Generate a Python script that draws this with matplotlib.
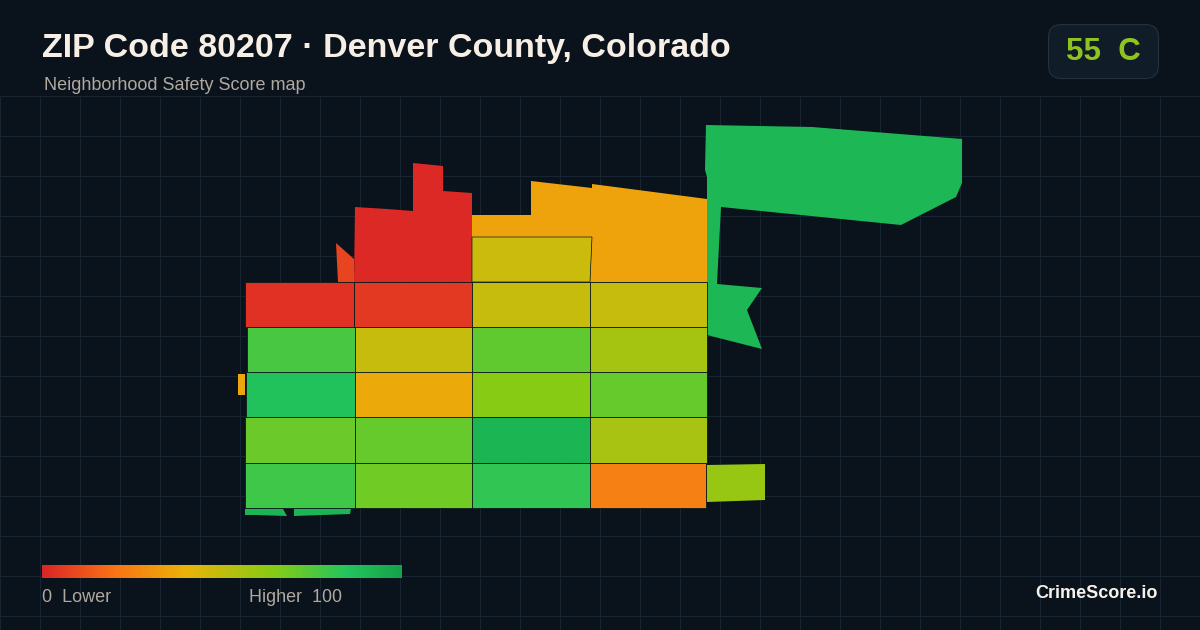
import numpy as np
import matplotlib
matplotlib.use('Agg')
import matplotlib.pyplot as plt
from matplotlib.colors import LinearSegmentedColormap
from matplotlib.patches import FancyBboxPatch, Polygon

BG = '#0a121c'
GRID = '#172431'
plt.rcParams['font.family'] = ['Liberation Sans', 'DejaVu Sans']

TITLE = 'ZIP Code 80207 · Denver County, Colorado'
SUBTITLE = 'Neighborhood Safety Score map'
BADGE = '55  C'

# colour scale of the score, 0 - 100
scale_stops = [0, 0.2, 0.4, 0.65, 0.85, 1]
scale_colors = ['#dc2626', '#f97316', '#eab308', '#84cc16', '#22c55e', '#16a34a']

# regular block tracts, pixel edges
col_edges = [
    [245, 354, 472, 590, 707],
    [247, 355, 472, 590, 707],
    [246, 355, 472, 590, 707],
    [245, 355, 472, 590, 707],
    [245, 355, 472, 590, 706],
]
row_edges = [282, 327, 372, 417, 463, 508]
block_scores = [
    [3, 5, 49, 49],
    [77, 49, 72, 57],
    [86, 37, 64, 71],
    [70, 71, 92, 56],
    [79, 69, 82, 24],
]

# irregular tracts (score, outline)
tract_scores = [1, 8, 35, 91, 60, 36, 92, 92, 48]
tract_shapes = [
    [(355, 207), (387, 209), (413, 211), (413, 163), (443, 166), (443, 191),
     (472, 193), (472, 282), (354, 282)],
    [(336, 243), (354, 259), (354, 282), (338, 282)],
    [(472, 215), (531, 215), (531, 181), (592, 188), (592, 184), (707, 199),
     (707, 282), (590, 282), (592, 237), (472, 237)],
    [(706, 125), (812, 127), (962, 139), (962, 183), (956, 197), (901, 225),
     (721, 207), (717, 284), (762, 288), (747, 310), (762, 349), (707, 335),
     (707, 177), (705, 170)],
    [(707, 465), (765, 464), (765, 500), (707, 502)],
    [(238, 374), (245, 374), (245, 395), (238, 395)],
    [(245, 509), (283, 509), (287, 516), (256, 515), (245, 515)],
    [(294, 509), (351, 509), (350, 514), (322, 515), (294, 516)],
    [(472, 237), (592, 237), (590, 282), (472, 282)],
]


def main():
    cmap = LinearSegmentedColormap.from_list('score', list(zip(scale_stops, scale_colors)))

    fig = plt.figure(figsize=(12, 6.3), dpi=100, facecolor=BG)
    ax = fig.add_axes([0, 0, 1, 1])
    ax.axis('off')

    # background grid, starts under the header
    ax.vlines(np.arange(0, 1201, 40), 96, 630, color=GRID, lw=0.72, zorder=1)
    ax.hlines(np.arange(96, 631, 40), 0, 1200, color=GRID, lw=0.72, zorder=1)

    for i, (score, shape) in enumerate(zip(tract_scores, tract_shapes)):
        # only the last one (inside the amber tract) shows an outline
        ec = '#0b1a1c' if i == len(tract_shapes) - 1 else 'none'
        ax.add_patch(Polygon(shape, closed=True, facecolor=cmap(score / 100), edgecolor=ec, lw=0.5, zorder=2))

    for r, row in enumerate(block_scores):
        for c, score in enumerate(row):
            x0, x1 = col_edges[r][c], col_edges[r][c + 1]
            y0, y1 = row_edges[r], row_edges[r + 1]
            ax.add_patch(Polygon([(x0, y0), (x1, y0), (x1, y1), (x0, y1)], closed=True,
                                 facecolor=cmap(score / 100), edgecolor='#0b1a1c', lw=0.6, zorder=3))

    ax.text(42, 48, TITLE, color='#f7efe5', fontsize=24.5, fontweight='bold', va='center', zorder=5)
    ax.text(44, 85.5, SUBTITLE, color='#b0a99f', fontsize=13, va='center', zorder=5)

    # score badge
    ax.add_patch(FancyBboxPatch((1048.5, 24.5), 110, 54, boxstyle='round,pad=0,rounding_size=13',
                                fc='#111c29', ec='#243140', lw=0.8, zorder=4))
    ax.text(1103, 51.5, BADGE, color='#8fc31f', fontsize=22.5, fontweight='bold', ha='center', va='center', zorder=5)

    # legend bar
    gradient = np.linspace(0, 1, 360).reshape(1, -1)
    ax.imshow(gradient, cmap=cmap, extent=(42, 402, 578, 565), aspect='auto', zorder=4)
    ax.text(42, 597, '0  Lower', color='#b0a99f', fontsize=13, va='center', zorder=5)
    ax.text(249, 597, 'Higher  100', color='#b0a99f', fontsize=12.9, va='center', zorder=5)
    ax.text(1158, 593.5, 'CrimeScore.io', color='#f7f3ec', fontsize=13, fontweight='bold', ha='right', va='center', zorder=5)

    ax.set_xlim(0, 1200)
    ax.set_ylim(630, 0)
    fig.savefig('out.png', dpi=100, facecolor=BG)


if __name__ == '__main__':
    main()
